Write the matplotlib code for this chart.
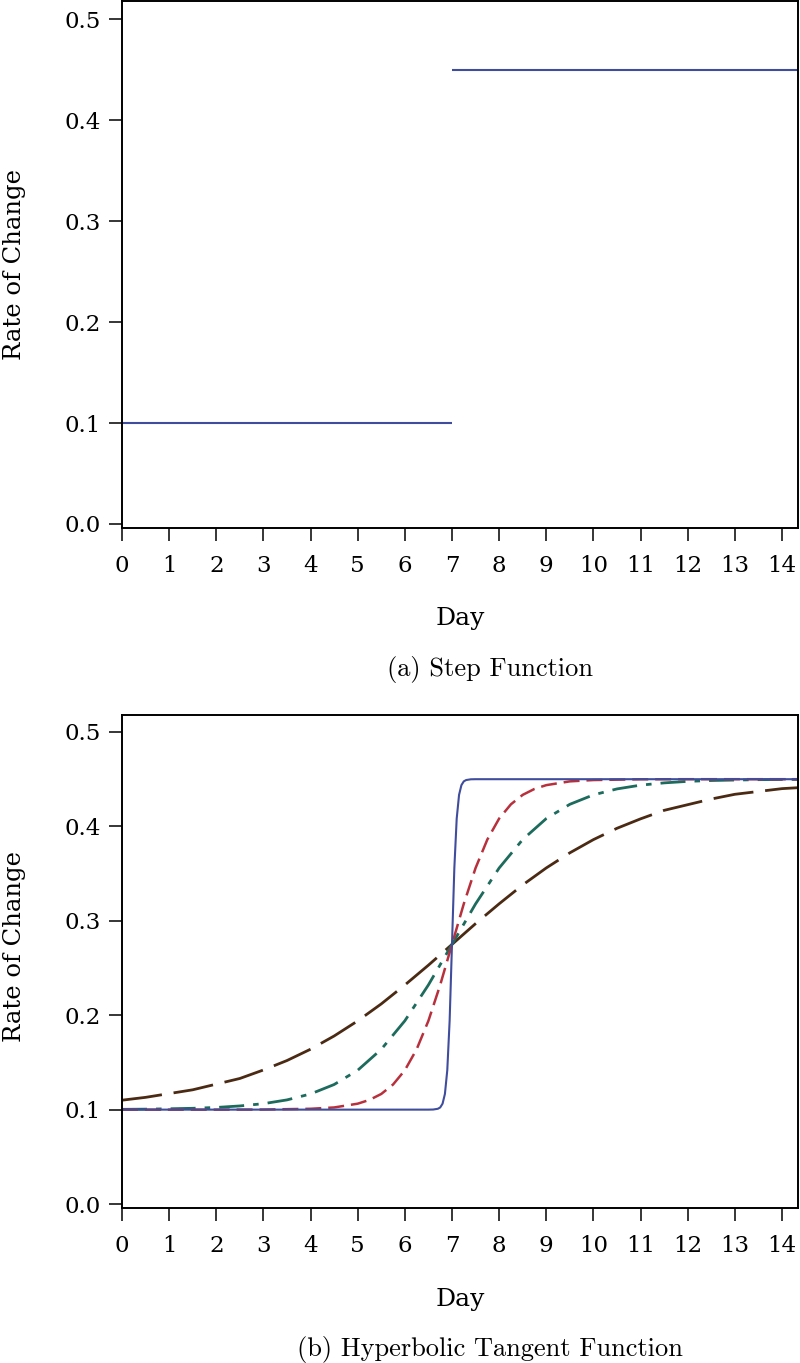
import matplotlib
matplotlib.use("Agg")
import matplotlib.pyplot as plt
import numpy as np

# ---------------- data ----------------
x_max = 14.34

# (a) step function: two separate horizontal pieces
step_low_days = [0.0, 7.0]
step_low_rate = [0.10, 0.10]
step_high_days = [7.0, x_max]
step_high_rate = [0.45, 0.45]

# (b) hyperbolic tangent curves
blue_days = [0.0, 6.5, 6.6, 6.7, 6.75, 6.8, 6.85, 6.9, 6.95, 7.0,
             7.05, 7.1, 7.15, 7.2, 7.25, 7.3, 7.4, 7.5, x_max]
blue_rate = [0.100, 0.1000, 0.1001, 0.1009, 0.1023, 0.1063, 0.1166, 0.1417, 0.1941, 0.275,
             0.3559, 0.4083, 0.4334, 0.4437, 0.4477, 0.4491, 0.4499, 0.4500, 0.450]

red_days = [0.0, 1.0, 2.0, 3.0, 4.0, 4.5, 5.0, 5.25, 5.5, 5.75, 6.0, 6.25, 6.5, 6.75, 7.0,
            7.25, 7.5, 7.75, 8.0, 8.25, 8.5, 8.75, 9.0, 9.5, 10.0, 11.0, 12.0, x_max]
red_rate = [0.100, 0.100, 0.100, 0.1001, 0.1009, 0.1023, 0.1063, 0.1103, 0.1166, 0.1266,
            0.1417, 0.1639, 0.1941, 0.2321, 0.275, 0.3179, 0.3559, 0.3861, 0.4083, 0.4234,
            0.4334, 0.4397, 0.4437, 0.4477, 0.4491, 0.4499, 0.4500, 0.450]

teal_days = [0.0, 0.5, 1.0, 1.5, 2.0, 2.5, 3.0, 3.5, 4.0, 4.5, 5.0, 5.5, 6.0, 6.5, 7.0,
             7.5, 8.0, 8.5, 9.0, 9.5, 10.0, 10.5, 11.0, 11.5, 12.0, 12.5, 13.0, 13.5, 14.0, x_max]
teal_rate = [0.1003, 0.1005, 0.1009, 0.1014, 0.1023, 0.1039, 0.1063, 0.1103, 0.1166, 0.1266,
             0.1417, 0.1639, 0.1941, 0.2321, 0.275, 0.3179, 0.3559, 0.3861, 0.4083, 0.4234,
             0.4334, 0.4397, 0.4437, 0.4461, 0.4477, 0.4486, 0.4491, 0.4495, 0.4497, 0.4498]

brown_days = [0.0, 0.5, 1.0, 1.5, 2.0, 2.5, 3.0, 3.5, 4.0, 4.5, 5.0, 5.5, 6.0, 6.5, 7.0,
              7.5, 8.0, 8.5, 9.0, 9.5, 10.0, 10.5, 11.0, 11.5, 12.0, 12.5, 13.0, 13.5, 14.0, x_max]
brown_rate = [0.110, 0.113, 0.117, 0.121, 0.127, 0.133, 0.142, 0.152, 0.164, 0.178,
              0.194, 0.212, 0.232, 0.253, 0.275, 0.297, 0.318, 0.338, 0.356, 0.372,
              0.386, 0.398, 0.408, 0.417, 0.423, 0.429, 0.434, 0.437, 0.440, 0.441]

x_ticks = list(range(0, 15))
y_ticks = [0.0, 0.1, 0.2, 0.3, 0.4, 0.5]
y_tick_labels = ["0.0", "0.1", "0.2", "0.3", "0.4", "0.5"]

x_label = "Day"
y_label = "Rate of Change"
caption_a = "(a) Step Function"
caption_b = "(b) Hyperbolic Tangent Function"

# ---------------- styling ----------------
plt.rcParams['font.family'] = ['DejaVu Serif']
plt.rcParams['lines.scale_dashes'] = False

C_BLUE = '#3f4d9c'
C_RED = '#b8303c'
C_TEAL = '#1c6b5c'
C_BROWN = '#4b2a14'

W, H = 800, 1363
fig = plt.figure(figsize=(W / 100, H / 100), dpi=100)

ax_a = fig.add_axes([122 / W, 1 - 528 / H, 676 / W, 527 / H])
ax_b = fig.add_axes([122 / W, 1 - 1208 / H, 676 / W, 493 / H])


def style(ax, ylo, yhi, xlabel_y, ylabel_y):
    ax.set_xlim(0, x_max)
    ax.set_ylim(ylo, yhi)
    ax.set_xticks(x_ticks)
    ax.set_xticklabels([str(t) for t in x_ticks])
    ax.set_yticks(y_ticks)
    ax.set_yticklabels(y_tick_labels)
    for s in ax.spines.values():
        s.set_linewidth(1.4)
        s.set_color('black')
    ax.tick_params(axis='both', direction='out', length=9.5, width=1.1,
                   labelsize=16.5, colors='black')
    ax.tick_params(axis='x', pad=10)
    ax.tick_params(axis='y', pad=6)
    ax.set_xlabel(x_label, fontsize=18)
    ax.set_ylabel(y_label, fontsize=17.5)
    ax.xaxis.set_label_coords(0.5, xlabel_y)
    ax.yaxis.set_label_coords(-0.142, ylabel_y)


style(ax_a, -0.004, 0.518, -0.150, 0.5)
style(ax_b, -0.0042, 0.518, -0.162, 0.53)

# (a)
ax_a.plot(step_low_days, step_low_rate, color=C_BLUE, lw=1.5, solid_capstyle='butt')
ax_a.plot(step_high_days, step_high_rate, color=C_BLUE, lw=1.5, solid_capstyle='butt')

# (b)
ax_b.plot(brown_days, brown_rate, color=C_BROWN, lw=2.0, linestyle=(0, (29, 8.5)))
ax_b.plot(teal_days, teal_rate, color=C_TEAL, lw=2.0, linestyle=(0, (18, 6.5, 4, 6.5)))
ax_b.plot(red_days, red_rate, color=C_RED, lw=1.8, linestyle=(0, (11.5, 5)))
ax_b.plot(blue_days, blue_rate, color=C_BLUE, lw=1.5)

fig.text(490 / W, 1 - 676 / H, caption_a, family='cmr10', fontsize=19,
         ha='center', va='baseline')
fig.text(490 / W, 1 - 1356 / H, caption_b, family='cmr10', fontsize=19,
         ha='center', va='baseline')

fig.savefig('out.png', dpi=100, facecolor='white')
